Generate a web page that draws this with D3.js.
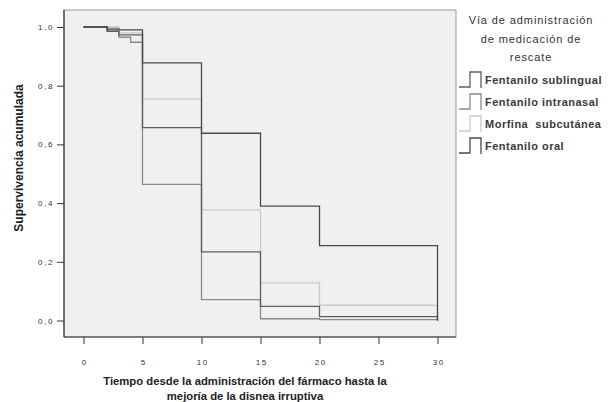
<!DOCTYPE html>
<html>
<head>
  <meta charset="utf-8">
  <title>supervivencia</title>
  <style>
    body { margin: 0; background: #fff; }
    svg { font-family: "Liberation Sans", Arial, sans-serif; }
    .tick text { font-size: 8px; fill: #333; letter-spacing: 1.6px; }
    .tick line { stroke: #333; }
    .domain { display: none; }
    .title { font-weight: bold; fill: #222; }
  </style>
</head>
<body>
<script src="https://d3js.org/d3.v7.min.js"></script>
<script>
  var width = 614,
      height = 402;

  // datos
  var groups = ['Fentanilo sublingual', 'Fentanilo intranasal', 'Morfina  subcutánea', 'Fentanilo oral'];
  var colors = ['#5e5e5e', '#8a8a8a', '#c9c9c9', '#4a4a4a'];

  var timesSublingual = [0, 2, 3, 5, 10, 15, 20, 30];
  var survSublingual  = [1, 0.985, 0.973, 0.657, 0.234, 0.048, 0.013, 0];

  var timesIntranasal = [0, 2, 3, 4, 5, 10, 15, 20, 30];
  var survIntranasal  = [1, 0.995, 0.965, 0.948, 0.464, 0.071, 0.006, 0.003, 0];

  var timesMorfina = [0, 3, 5, 10, 15, 20, 30];
  var survMorfina  = [1, 0.98, 0.754, 0.377, 0.128, 0.052, 0];

  var timesOral = [0, 2, 5, 10, 15, 20, 30];
  var survOral  = [1, 0.99, 0.878, 0.638, 0.39, 0.255, 0];

  var xTicks = [0, 5, 10, 15, 20, 25, 30];
  var yTicks = [0, 0.2, 0.4, 0.6, 0.8, 1.0];

  var series = [
    [timesSublingual, survSublingual],
    [timesIntranasal, survIntranasal],
    [timesMorfina, survMorfina],
    [timesOral, survOral]
  ];

  var box = {left: 64, right: 456, top: 10, bottom: 337};

  var svg = d3.select('body')
    .append('svg')
    .attr('width', width)
    .attr('height', height);

  var xScale = d3.scaleLinear().domain([0, 30]).range([83.5, 437.5]);
  var yScale = d3.scaleLinear().domain([0, 1]).range([320.5, 27]);

  // fondo del area de trazado
  svg.append('rect')
    .attr('x', box.left)
    .attr('y', box.top)
    .attr('width', box.right - box.left)
    .attr('height', box.bottom - box.top)
    .attr('fill', '#eff0f2')
    .attr('stroke', '#9a9a9a')
    .attr('stroke-width', 1);

  var fmt = function(d) { return d3.format('.1f')(d).replace('.', ','); };

  var yAxis = d3.axisLeft(yScale).tickValues(yTicks).tickFormat(fmt).tickSize(7).tickPadding(3);
  svg.append('g')
    .attr('transform', 'translate(' + box.left + ',0)')
    .call(yAxis);

  var xAxis = d3.axisBottom(xScale).tickValues(xTicks).tickFormat(d3.format('d')).tickSize(7).tickPadding(15);
  svg.append('g')
    .attr('class', 'xaxis')
    .attr('transform', 'translate(0,' + box.bottom + ')')
    .call(xAxis);

  // compensa el espaciado de letras al centrar
  svg.selectAll('.xaxis .tick text').attr('dx', '0.8px');

  // ejes del recuadro
  svg.append('line')
    .attr('x1', box.left).attr('x2', box.left)
    .attr('y1', box.top).attr('y2', box.bottom)
    .attr('stroke', '#333').attr('stroke-width', 1.2);
  svg.append('line')
    .attr('x1', box.left).attr('x2', box.right)
    .attr('y1', box.bottom).attr('y2', box.bottom)
    .attr('stroke', '#333').attr('stroke-width', 1.2);

  var line = d3.line()
    .x(function(d) { return xScale(d[0]); })
    .y(function(d) { return yScale(d[1]); })
    .curve(d3.curveStepAfter);

  // la morfina (gris claro) va debajo
  [2, 1, 0, 3].forEach(function(i) {
    var pts = d3.zip(series[i][0], series[i][1]);
    svg.append('path')
      .datum(pts)
      .attr('d', line)
      .attr('fill', 'none')
      .attr('stroke', colors[i])
      .attr('stroke-width', 1.3);
  });

  // titulos de los ejes
  svg.append('text')
    .attr('class', 'title')
    .attr('transform', 'translate(23,158) rotate(-90)')
    .attr('text-anchor', 'middle')
    .attr('font-size', '12px')
    .text('Supervivencia acumulada');

  svg.append('text')
    .attr('class', 'title')
    .attr('x', 245).attr('y', 385)
    .attr('text-anchor', 'middle')
    .attr('font-size', '11.3px')
    .text('Tiempo desde la administración del fármaco hasta la');
  svg.append('text')
    .attr('class', 'title')
    .attr('x', 245).attr('y', 400)
    .attr('text-anchor', 'middle')
    .attr('font-size', '11.3px')
    .text('mejoría de la disnea irruptiva');

  // leyenda
  var legTitle = ['Vía de administración', 'de medicación de', 'rescate'];
  svg.selectAll('.legTitle')
    .data(legTitle)
    .enter()
    .append('text')
    .attr('class', 'legTitle')
    .attr('x', 531)
    .attr('y', function(d, i) { return 24 + i * 18.5; })
    .attr('text-anchor', 'middle')
    .attr('font-size', '11px')
    .attr('letter-spacing', '0.9px')
    .attr('fill', '#333')
    .text(function(d) { return d; });

  var leg = svg.selectAll('.leg')
    .data(groups)
    .enter()
    .append('g')
    .attr('class', 'leg')
    .attr('transform', function(d, i) { return 'translate(459,' + (87 + i * 22) + ')'; });

  leg.append('path')
    .attr('d', 'M0,0 H11 V-15 H22 V1')
    .attr('fill', 'none')
    .attr('stroke', function(d, i) { return colors[i]; })
    .attr('stroke-width', 1.3);

  leg.append('text')
    .attr('x', 26)
    .attr('y', -3)
    .attr('font-size', '11px')
    .attr('font-weight', 'bold')
    .attr('letter-spacing', '0.5px')
    .attr('fill', '#3a3a3a')
    .style('white-space', 'pre')
    .text(function(d) { return d; });
</script>
</body>
</html>
